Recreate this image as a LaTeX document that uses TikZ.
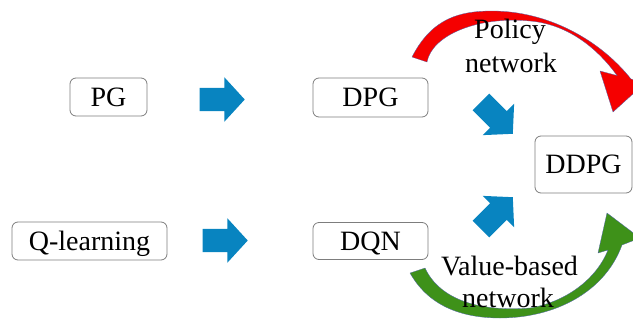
\documentclass[tikz,border=0pt]{standalone}
\usepackage{fontspec}
\setmainfont{Liberation Serif}
\usetikzlibrary{shapes.arrows}
\definecolor{boxgray}{RGB}{125,125,125}
\definecolor{flowblue}{RGB}{8,132,192}
\definecolor{policyred}{RGB}{245,0,0}
\definecolor{valuegreen}{RGB}{62,145,25}
\definecolor{rimblue}{RGB}{80,100,170}
\begin{document}
\begin{tikzpicture}[x=1pt,y=-1pt,
  every node/.style={font=\fontsize{28}{34}\selectfont},
  algbox/.style={draw=boxgray, line width=0.8pt, rounded corners=6pt,
    inner sep=0pt, text depth=0pt, align=center},
  blockarrow/.style={single arrow, fill=flowblue, draw=none,
    minimum height=45pt, inner xsep=0pt, inner ysep=11.5pt,
    single arrow head extend=10.5pt, single arrow tip angle=95},
  caption/.style={anchor=base, inner sep=0pt},
  bentarrow/.style={line width=0.3pt, draw=rimblue}]
\useasboundingbox (0,0) rectangle (633,322);

% algorithm boxes
\node[algbox, minimum width=77pt,  minimum height=38pt] (pg)   at (108.5,97)   {PG};
\node[algbox, minimum width=155pt, minimum height=38pt] (ql)   at (89.5,241)   {Q-learning};
\node[algbox, minimum width=115pt, minimum height=39pt] (dpg)  at (370.5,97.5) {DPG};
\node[algbox, minimum width=115pt, minimum height=37pt] (dqn)  at (370.5,241)  {DQN};
\node[algbox, minimum width=97pt,  minimum height=57pt] (ddpg) at (583.5,164.5) {DDPG};

% block arrows
\node[blockarrow, anchor=tip] (pgtodpg) at (245,99.5) {};
\node[blockarrow, anchor=tip] (qltodqn) at (248,240.5) {};
\node[blockarrow, anchor=tip, rotate=-45] (dpgtoddpg) at (513,134) {};
\node[blockarrow, anchor=tip, rotate=45]  (dqntoddpg) at (513,197) {};

% policy network: red bent arrow over the top
\path[bentarrow, fill=policyred]
  (412,57) .. controls (432,18) and (460,11) .. (492,11)
  .. controls (548,11) and (600,40) .. (631,79)
  -- (645,83) -- (613,112) -- (600,71) -- (617,75.5)
  .. controls (595,45) and (565,24) .. (530,21)
  .. controls (478,16) and (432,35) .. (427,62) -- cycle;

% value-based network: green bent arrow along the bottom
\path[bentarrow, fill=valuegreen]
  (410,273) .. controls (428,305) and (460,318) .. (500,318)
  .. controls (555,318) and (605,292) .. (622,245)
  -- (640,238) -- (607,213) -- (598,253) -- (608,250)
  .. controls (596,280) and (565,302) .. (530,308)
  .. controls (480,312) and (440,300) .. (425,268) -- cycle;

% captions
\node[caption] (pol1) at (510,38)    {Policy};
\node[caption] (pol2) at (511,72)    {network};
\node[caption] (val1) at (509.5,275) {Value-based};
\node[caption] (val2) at (508,307)   {network};
\end{tikzpicture}
\end{document}
